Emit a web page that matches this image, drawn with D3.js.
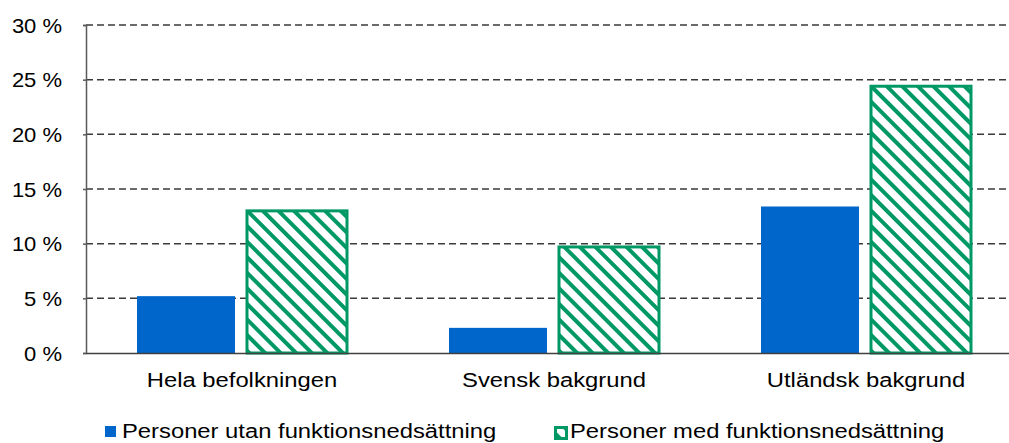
<!DOCTYPE html>
<html lang="sv">
<head>
<meta charset="utf-8">
<script src="https://d3js.org/d3.v7.min.js"></script>
<style>
  body { margin: 0; background: #fff; }
  svg text { font-family: "Liberation Sans", Arial, sans-serif; fill: #000; }
</style>
</head>
<body>
<div id="chart"></div>
<script>
  var categories = ["Hela befolkningen", "Svensk bakgrund", "Utländsk bakgrund"];
  var seriesNames = ["Personer utan funktionsnedsättning", "Personer med funktionsnedsättning"];
  var utan = [5.2, 2.3, 13.4];
  var med = [13.0, 9.7, 24.4];
  var yTicks = [0, 5, 10, 15, 20, 25, 30];

  var w = 1009, h = 443;
  var margin = {top: 25, left: 86, bottom: 90};
  var plotRight = 1022;
  var innerH = h - margin.top - margin.bottom;
  var sx = 1.19; // text in the original is a bit wider than plain Arial
  var sxTick = 1.1;

  var svg = d3.select("#chart").append("svg")
      .attr("width", w).attr("height", h);

  var defs = svg.append("defs");
  var pat = defs.append("pattern")
      .attr("id", "hatch")
      .attr("patternUnits", "userSpaceOnUse")
      .attr("width", 11).attr("height", 11)
      .attr("patternTransform", "rotate(45)");
  pat.append("rect").attr("width", 11).attr("height", 11).attr("fill", "#fff");
  pat.append("rect").attr("x", 0).attr("y", 0).attr("width", 11).attr("height", 4).attr("fill", "#009966");

  var x = d3.scaleBand().domain(categories).range([margin.left, plotRight]);
  var xSub = d3.scaleBand().domain([0, 1]).range([0, x.bandwidth()])
      .paddingInner(0.0909).paddingOuter(0.4636);
  var y = d3.scaleLinear().domain([0, 30]).range([margin.top + innerH, margin.top]);

  // gridlines
  svg.append("g").selectAll("line").data(yTicks.filter(d => d > 0)).enter().append("line")
      .attr("x1", margin.left).attr("x2", w)
      .attr("y1", d => y(d)).attr("y2", d => y(d))
      .attr("stroke", "#3a3a3a").attr("stroke-width", 1.5)
      .attr("stroke-dasharray", "7,4");

  // y axis
  var yAxis = d3.axisLeft(y).tickValues(yTicks).tickSize(3).tickPadding(0)
      .tickFormat(d => d + " %");
  var gy = svg.append("g").attr("transform", `translate(${margin.left},0)`).call(yAxis);
  gy.select(".domain").attr("stroke", "#595959").attr("stroke-width", 1.5);
  gy.selectAll(".tick line").attr("stroke", "#595959").attr("stroke-width", 1.5);
  gy.selectAll(".tick text").attr("font-size", 20).attr("dy", "0.35em")
      .attr("x", -24 / sxTick).attr("transform", `scale(${sxTick},1)`);

  // bars
  var groups = svg.append("g").selectAll("g").data(categories).enter().append("g")
      .attr("transform", d => `translate(${x(d)},0)`);

  groups.append("rect")
      .attr("x", xSub(0)).attr("width", xSub.bandwidth() - 2)
      .attr("y", (d, i) => y(utan[i]))
      .attr("height", (d, i) => y(0) - y(utan[i]))
      .attr("fill", "#0066CC");

  groups.append("rect")
      .attr("x", xSub(1)).attr("width", xSub.bandwidth())
      .attr("y", (d, i) => y(med[i]))
      .attr("height", (d, i) => y(0) - y(med[i]))
      .attr("fill", "url(#hatch)")
      .attr("stroke", "#009966").attr("stroke-width", 3);

  // x axis
  var xAxis = d3.axisBottom(x).tickSize(0).tickPadding(20);
  var gx = svg.append("g").attr("transform", `translate(0,${y(0)})`).call(xAxis);
  gx.select(".domain").attr("stroke", "#404040").attr("stroke-width", 1.5);
  gx.selectAll(".tick text").attr("font-size", 20).attr("transform", `scale(${sx},1)`);

  // legend
  var legend = svg.append("g");
  var lx = [105, 554];
  legend.selectAll("rect").data(seriesNames).enter().append("rect")
      .attr("x", (d, i) => lx[i] + (i ? 1.5 : 0))
      .attr("y", (d, i) => 426 + (i ? 1.5 : 0))
      .attr("width", 11)
      .attr("height", 11)
      .attr("fill", (d, i) => i ? "url(#hatch)" : "#0066CC")
      .attr("stroke", (d, i) => i ? "#009966" : "none")
      .attr("stroke-width", 3);
  legend.selectAll("text").data(seriesNames).enter().append("text")
      .attr("transform", (d, i) => `translate(${lx[i] + (i ? 16 : 17)},438) scale(${sx},1)`)
      .attr("font-size", 20)
      .text(d => d);
</script>
</body>
</html>
